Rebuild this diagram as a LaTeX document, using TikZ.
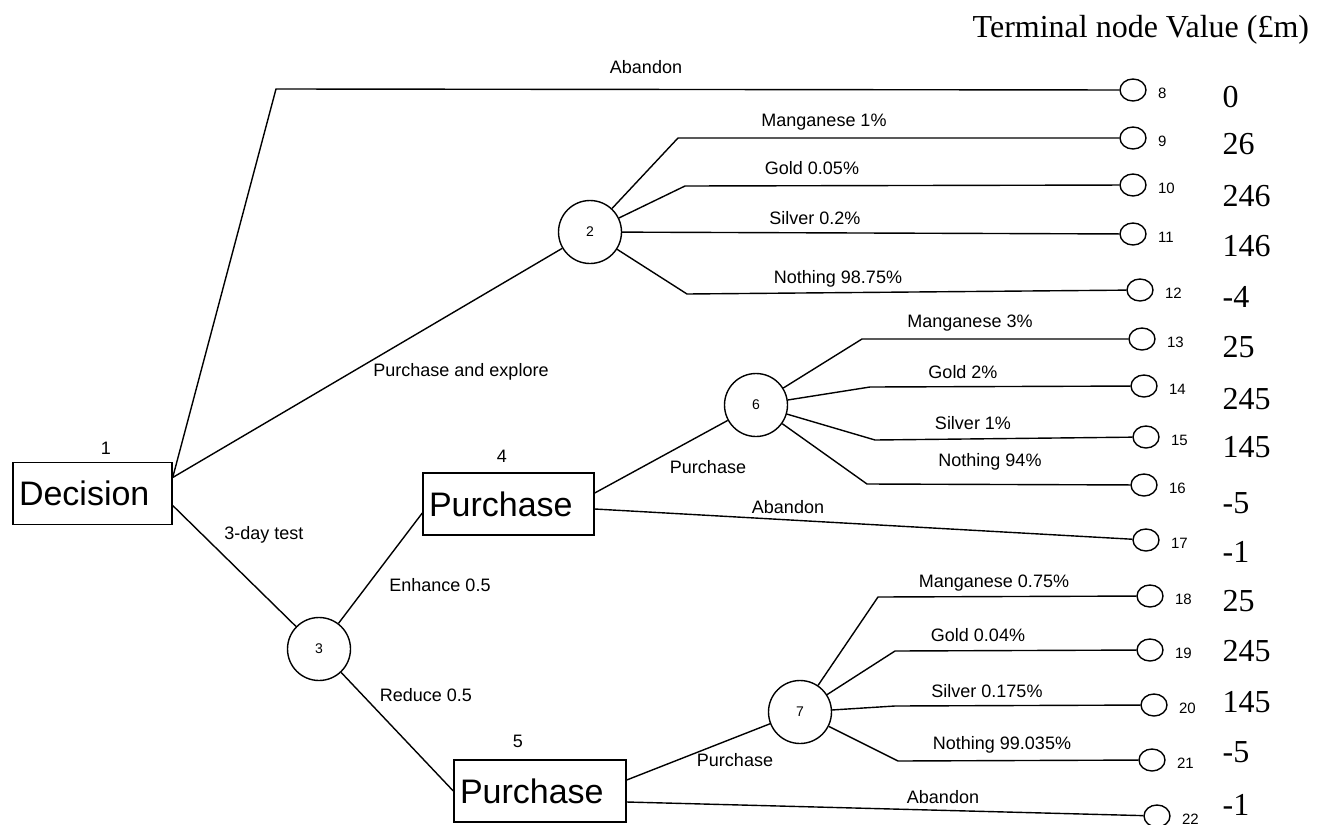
\documentclass[tikz,border=0pt]{standalone}
\usepackage{fontspec}
\setmainfont{Liberation Serif}
\setsansfont{Liberation Sans}
\usetikzlibrary{shapes.geometric}

\begin{document}
\begin{tikzpicture}[x=0.5pt,y=-0.5pt,line width=0.7pt,
    decbox/.style={draw,rectangle,font=\sffamily\fontsize{17}{20}\selectfont,align=left,inner xsep=3pt,minimum height=31pt},
    chance/.style={draw,circle,minimum size=31.5pt,inner sep=0pt,font=\sffamily\fontsize{7}{8}\selectfont},
    term/.style={draw,ellipse,minimum width=13pt,minimum height=11pt,inner sep=0pt,
      label={[font=\sffamily\fontsize{7.5}{9}\selectfont,label distance=2pt,yshift=-1.5pt]east:#1}},
    lbl/.style={font=\sffamily\fontsize{9}{10}\selectfont,inner sep=0pt},
    val/.style={font=\fontsize{16}{18}\selectfont,anchor=west,inner sep=0pt}]
      \useasboundingbox (0,0) rectangle (1329,825);

      % decision and chance nodes
      \node[decbox,text width=73.5pt] (1) at (92.5,493.5) {Decision};
      \node[chance] (2) at (590,232) {2};
      \node[chance] (3) at (319,649) {3};
      \node[decbox,text width=79.5pt] (4) at (508.5,504) {Purchase};
      \node[decbox,text width=80pt] (5) at (540,791) {Purchase};
      \node[chance] (6) at (756,405) {6};
      \node[chance] (7) at (800,712) {7};

      \node[lbl] (n1) at (106,448) {1};
      \node[lbl] (n4) at (502,456) {4};
      \node[lbl] (n5) at (518,741) {5};

      % terminal nodes
      \node[term=8] (8) at (1133,90) {};
      \node[term=9] (9) at (1133,138) {};
      \node[term=10] (10) at (1133,185) {};
      \node[term=11] (11) at (1133,234) {};
      \node[term=12] (12) at (1140,290) {};
      \node[term=13] (13) at (1142,339) {};
      \node[term=14] (14) at (1144,386) {};
      \node[term=15] (15) at (1146,437) {};
      \node[term=16] (16) at (1144,485) {};
      \node[term=17] (17) at (1146,540) {};
      \node[term=18] (18) at (1150,596) {};
      \node[term=19] (19) at (1150,650) {};
      \node[term=20] (20) at (1154,705) {};
      \node[term=21] (21) at (1152,760) {};
      \node[term=22] (22) at (1157,816) {};

      \coordinate (dec-up) at ([yshift=8pt]1.east);
      \coordinate (dec-down) at ([yshift=-6pt]1.east);

      % branches
      \draw (dec-up) -- (276,89) -- (8);
      \draw (dec-up) -- (2);
      \draw (dec-down) -- (3);
      \draw (2) -- (678,138) -- (9);
      \draw (2) -- (685,186) -- (10);
      \draw (2) -- (11);
      \draw (2) -- (687,294) -- (12);
      \draw (3) -- ([yshift=-4.5pt]4.west);
      \draw (3) -- (5.west);
      \draw ([yshift=5.5pt]4.east) -- (6);
      \draw ([yshift=-2.5pt]4.east) -- (17);
      \draw (6) -- (862,339) -- (13);
      \draw (6) -- (870,387) -- (14);
      \draw (6) -- (875,440) -- (15);
      \draw (6) -- (867,484) -- (16);
      \draw ([yshift=5.5pt]5.east) -- (7);
      \draw ([yshift=-5.5pt]5.east) -- (22);
      \draw (7) -- (878,597) -- (18);
      \draw (7) -- (895,651) -- (19);
      \draw (7) -- (895,706) -- (20);
      \draw (7) -- (898,761) -- (21);

      % branch labels
      \node[lbl] (a8) at (646,67) {Abandon};
      \node[lbl] (m9) at (824,122) {Manganese 1\%};
      \node[lbl] (g10) at (812,168) {Gold 0.05\%};
      \node[lbl] (s11) at (815,218) {Silver 0.2\%};
      \node[lbl] (z12) at (838,279) {Nothing 98.75\%};
      \node[lbl] (pe) at (461,372) {Purchase and explore};
      \node[lbl] (test) at (264,535) {3-day test};
      \node[lbl] (enh) at (440,585) {Enhance 0.5};
      \node[lbl] (red) at (426,695) {Reduce 0.5};
      \node[lbl] (p6) at (708,467) {Purchase};
      \node[lbl] (a17) at (788,507) {Abandon};
      \node[lbl] (m13) at (970,323) {Manganese 3\%};
      \node[lbl] (g14) at (963,372) {Gold 2\%};
      \node[lbl] (s15) at (973,423) {Silver 1\%};
      \node[lbl] (z16) at (990,462) {Nothing 94\%};
      \node[lbl] (p7) at (735,760) {Purchase};
      \node[lbl] (a22) at (943,797) {Abandon};
      \node[lbl] (m18) at (994,583) {Manganese 0.75\%};
      \node[lbl] (g19) at (978,635) {Gold 0.04\%};
      \node[lbl] (s20) at (987,691) {Silver 0.175\%};
      \node[lbl] (z21) at (1002,745) {Nothing 99.035\%};

      % terminal values
      \node[font=\fontsize{16}{18}\selectfont,anchor=base west,inner sep=0pt] (head) at (972,37) {Terminal node Value (£m)};
      \node[val] (v8) at (1222,97) {0};
      \node[val] (v9) at (1222,144) {26};
      \node[val] (v10) at (1222,196) {246};
      \node[val] (v11) at (1222,246) {146};
      \node[val] (v12) at (1222,297) {-4};
      \node[val] (v13) at (1222,347) {25};
      \node[val] (v14) at (1222,399) {245};
      \node[val] (v15) at (1222,447) {145};
      \node[val] (v16) at (1222,503) {-5};
      \node[val] (v17) at (1222,552) {-1};
      \node[val] (v18) at (1222,601) {25};
      \node[val] (v19) at (1222,651) {245};
      \node[val] (v20) at (1222,702) {145};
      \node[val] (v21) at (1222,752) {-5};
      \node[val] (v22) at (1222,805) {-1};
    \end{tikzpicture}
\end{document}
